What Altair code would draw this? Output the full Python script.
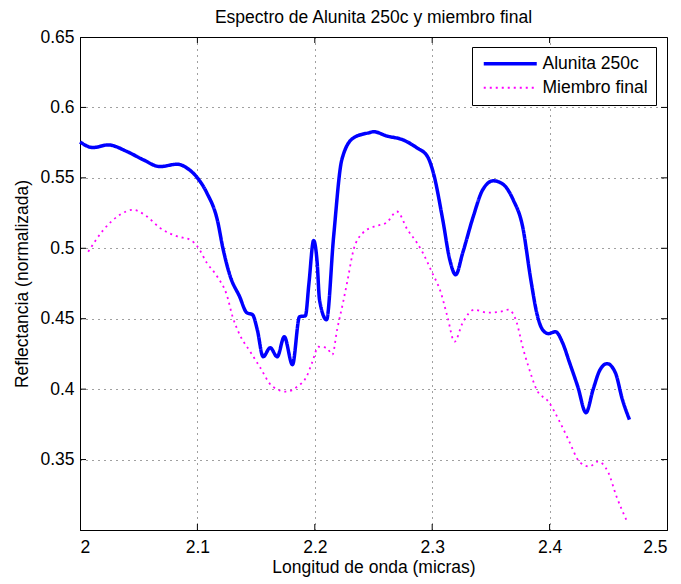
import altair as alt
import pandas as pd

# --- data ---
alunita_x = [2.000, 2.011, 2.024, 2.040, 2.054, 2.068, 2.083, 2.091, 2.100, 2.108,
             2.117, 2.122, 2.128, 2.136, 2.142, 2.147, 2.151, 2.156, 2.162, 2.168,
             2.174, 2.181, 2.187, 2.192, 2.195, 2.199, 2.202, 2.204, 2.210, 2.216,
             2.223, 2.233, 2.247, 2.250, 2.261, 2.275, 2.287, 2.296, 2.301, 2.309,
             2.315, 2.320, 2.326, 2.335, 2.343, 2.352, 2.360, 2.369, 2.377, 2.384,
             2.389, 2.394, 2.399, 2.405, 2.411, 2.417, 2.424, 2.431, 2.437, 2.443,
             2.449, 2.456, 2.462, 2.468]
alunita_y = [0.5755, 0.5715, 0.5734, 0.5687, 0.5628, 0.5580, 0.5597, 0.5570, 0.5500, 0.5394,
             0.5200, 0.4990, 0.4800, 0.4656, 0.4543, 0.4528, 0.4422, 0.4230, 0.4294, 0.4230,
             0.4372, 0.4174, 0.4514, 0.4521, 0.4750, 0.5055, 0.4900, 0.4635, 0.4493, 0.5080,
             0.5628, 0.5784, 0.5822, 0.5828, 0.5798, 0.5770, 0.5713, 0.5651, 0.5535, 0.5202,
             0.4918, 0.4812, 0.4968, 0.5226, 0.5415, 0.5479, 0.5457, 0.5344, 0.5155, 0.4777,
             0.4543, 0.4422, 0.4394, 0.4408, 0.4330, 0.4188, 0.4018, 0.3833, 0.3996, 0.4138,
             0.4181, 0.4117, 0.3926, 0.3784]

miembro_x = [2.007, 2.020, 2.034, 2.045, 2.057, 2.068, 2.083, 2.094, 2.100, 2.108,
             2.117, 2.125, 2.130, 2.136, 2.145, 2.153, 2.164, 2.176, 2.185, 2.193,
             2.198, 2.203, 2.210, 2.215, 2.219, 2.224, 2.228, 2.233, 2.241, 2.250,
             2.261, 2.270, 2.279, 2.287, 2.292, 2.300, 2.307, 2.313, 2.319, 2.326,
             2.336, 2.347, 2.358, 2.365, 2.372, 2.377, 2.382, 2.389, 2.399, 2.409,
             2.416, 2.426, 2.434, 2.441, 2.450, 2.457, 2.466]
miembro_y = [0.4975, 0.5131, 0.5238, 0.5273, 0.5226, 0.5145, 0.5084, 0.5060, 0.5013, 0.4897,
             0.4798, 0.4670, 0.4514, 0.4387, 0.4266, 0.4160, 0.4018, 0.3982, 0.4018, 0.4089,
             0.4195, 0.4301, 0.4294, 0.4245, 0.4422, 0.4613, 0.4777, 0.4989, 0.5110, 0.5153,
             0.5181, 0.5261, 0.5131, 0.5039, 0.4968, 0.4826, 0.4695, 0.4514, 0.4337, 0.4472,
             0.4564, 0.4543, 0.4550, 0.4564, 0.4472, 0.4301, 0.4160, 0.3996, 0.3911, 0.3762,
             0.3642, 0.3479, 0.3451, 0.3486, 0.3408, 0.3238, 0.3060]

series_names = ["Alunita 250c", "Miembro final"]
x_ticks = [2.0, 2.1, 2.2, 2.3, 2.4, 2.5]
y_ticks = [0.35, 0.4, 0.45, 0.5, 0.55, 0.6, 0.65]

df = pd.concat([
    pd.DataFrame({"x": alunita_x, "y": alunita_y, "serie": series_names[0], "o": range(len(alunita_x))}),
    pd.DataFrame({"x": miembro_x, "y": miembro_y, "serie": series_names[1], "o": range(len(miembro_x))}),
])

W, H = 587, 493
FONT = "Liberation Sans"
FS = 17.5
xscale = alt.Scale(domain=[2.0, 2.5], nice=False, zero=False)
yscale = alt.Scale(domain=[0.3, 0.65], nice=False, zero=False)

lines = alt.Chart(df).mark_line(interpolate="monotone").encode(
    x=alt.X("x:Q", scale=xscale,
            axis=alt.Axis(values=x_ticks, format="~g", title="Longitud de onda (micras)",
                          grid=True, gridDash=[1, 5], gridColor="#000", gridOpacity=0.75,
                          tickSize=0, labelPadding=8, titlePadding=3)),
    y=alt.Y("y:Q", scale=yscale,
            axis=alt.Axis(values=y_ticks, format="~g", title="Reflectancia (normalizada)",
                          grid=True, gridDash=[1, 5], gridColor="#000", gridOpacity=0.75,
                          tickSize=0, labelPadding=6, titlePadding=8)),
    color=alt.Color("serie:N", scale=alt.Scale(domain=series_names, range=["#0000ff", "#ff00ff"]),
                    legend=alt.Legend(title=None)),
    strokeDash=alt.StrokeDash("serie:N", scale=alt.Scale(domain=series_names, range=[[1, 0], [2, 4]]),
                              legend=alt.Legend(title=None)),
    strokeWidth=alt.StrokeWidth("serie:N", scale=alt.Scale(domain=series_names, range=[3.5, 1.8]),
                                legend=alt.Legend(title=None)),
    order="o:Q",
)

ytick_df = pd.DataFrame({"v": y_ticks[:-1]})
xtick_df = pd.DataFrame({"v": x_ticks[1:-1]})
tick_style = dict(color="#000", strokeWidth=1)
yticks_l = alt.Chart(ytick_df).mark_rule(**tick_style).encode(
    y=alt.Y("v:Q", scale=yscale), x=alt.value(0), x2=alt.value(6))
yticks_r = alt.Chart(ytick_df).mark_rule(**tick_style).encode(
    y=alt.Y("v:Q", scale=yscale), x=alt.value(W - 6), x2=alt.value(W))
xticks_b = alt.Chart(xtick_df).mark_rule(**tick_style).encode(
    x=alt.X("v:Q", scale=xscale), y=alt.value(H - 6), y2=alt.value(H))
xticks_t = alt.Chart(xtick_df).mark_rule(**tick_style).encode(
    x=alt.X("v:Q", scale=xscale), y=alt.value(0), y2=alt.value(6))

chart = alt.layer(lines, yticks_l, yticks_r, xticks_b, xticks_t).properties(
    width=W, height=H,
    title=alt.TitleParams("Espectro de Alunita 250c y miembro final", fontSize=FS,
                          fontWeight="normal", font=FONT, color="#000", offset=2),
    autosize=alt.AutoSizeParams(type="none"),
    padding={"left": 72, "top": 29, "right": 6, "bottom": 54},
).configure_view(
    stroke="#000", strokeWidth=1
).configure_axis(
    labelFont=FONT, titleFont=FONT, labelFontSize=FS, titleFontSize=FS,
    labelColor="#000", titleColor="#000", titleFontWeight="normal",
    domainColor="#000", domain=True,
).configure_legend(
    orient="none", legendX=392, legendY=10, fillColor="#fff", strokeColor="#000",
    padding=8, cornerRadius=0, symbolType="M-1,0L9.6,0", symbolSize=100,
    labelFont=FONT, labelFontSize=FS, labelColor="#000", rowPadding=5,
    labelOffset=45,
)

chart.save("out.html", embed_options={"renderer": "svg", "actions": False})
